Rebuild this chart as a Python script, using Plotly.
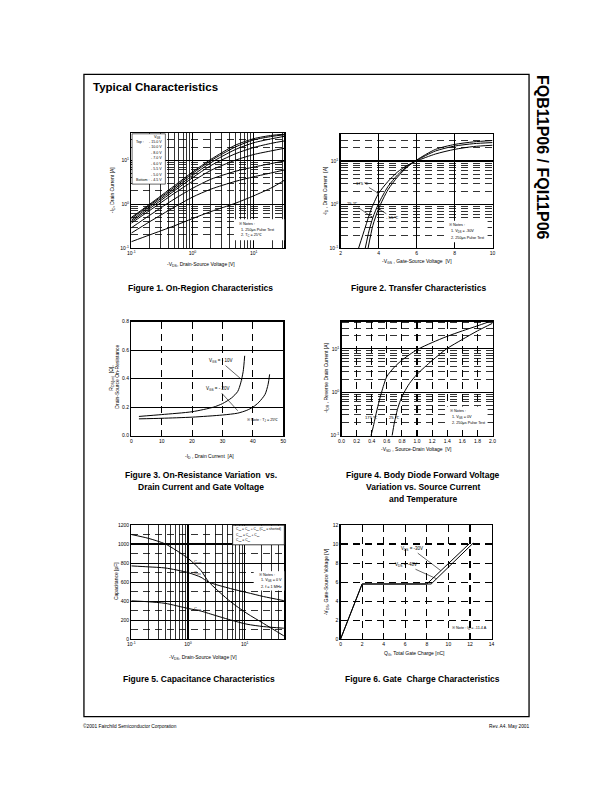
import math
import plotly.graph_objects as go

W, H = 612, 792
FONT = "Liberation Sans, Arial, Helvetica, sans-serif"

# ---------------- Figure 1 : On-Region Characteristics ----------------
f1_vds = [0.1, 0.2, 0.5, 1.0, 2.0, 5.0, 10.0, 20.0, 31.6]
f1_id_15v = [0.50, 1.00, 2.60, 5.40, 10.5, 22.0, 31.0, 37.0, 39.0]
f1_id_10v = [0.47, 0.95, 2.40, 5.00, 9.8, 20.0, 29.0, 35.0, 38.0]
f1_id_8v = [0.43, 0.88, 2.20, 4.50, 8.8, 17.5, 25.0, 31.0, 35.0]
f1_id_7v = [0.40, 0.80, 2.00, 4.00, 7.6, 14.0, 19.5, 24.5, 27.5]
f1_id_6v = [0.37, 0.72, 1.75, 3.30, 5.9, 10.0, 13.5, 16.5, 18.7]
f1_id_5v5 = [0.29, 0.56, 1.30, 2.30, 3.7, 5.6, 7.0, 8.5, 9.6]
f1_id_5v = [0.22, 0.40, 0.85, 1.45, 2.2, 3.3, 4.2, 5.2, 6.0]
f1_id_4v5 = [0.14, 0.20, 0.32, 0.47, 0.68, 1.05, 1.55, 2.4, 3.5]
f1_vgs_labels = ["- 15.0 V", "- 10.0 V", "- 8.0 V", "- 7.0 V", "- 6.0 V", "- 5.5 V", "- 5.0 V", "- 4.5 V"]

# ---------------- Figure 2 : Transfer Characteristics ----------------
f2_vgs_175 = [2.95, 3.3, 3.6, 4.0, 4.5, 5.0, 5.5, 6.0, 7.0, 8.0, 9.0, 10.0]
f2_id_175 = [0.10, 0.30, 0.75, 1.8, 3.4, 5.6, 7.9, 10.0, 14.5, 18.5, 21.5, 23.0]
f2_vgs_25 = [3.3, 3.5, 3.7, 4.0, 4.5, 5.0, 5.5, 6.0, 7.0, 8.0, 9.0, 10.0]
f2_id_25 = [0.10, 0.25, 0.50, 1.05, 2.6, 4.8, 7.5, 10.3, 17.0, 22.0, 25.0, 26.5]
f2_vgs_m55 = [3.45, 3.7, 4.0, 4.5, 5.0, 5.5, 6.0, 7.0, 8.0, 9.0, 10.0]
f2_id_m55 = [0.10, 0.33, 0.80, 2.2, 4.3, 7.2, 10.5, 18.5, 24.0, 27.5, 29.5]

# ---------------- Figure 3 : On-Resistance ----------------
f3_id_10v = [2.5, 10, 20, 27, 30, 33, 35, 36, 36.8, 37.3]
f3_r_10v = [0.135, 0.148, 0.168, 0.20, 0.225, 0.265, 0.31, 0.37, 0.45, 0.56]
f3_id_20v = [2.5, 10, 20, 30, 35, 38, 40, 42, 44, 45, 45.5]
f3_r_20v = [0.118, 0.122, 0.130, 0.145, 0.158, 0.178, 0.20, 0.235, 0.29, 0.36, 0.43]

# ---------------- Figure 4 : Body Diode ----------------
f4_vsd_175 = [0.39, 0.42, 0.45, 0.49, 0.53, 0.60, 0.70, 0.80, 1.0, 1.2, 1.4, 1.6, 1.8, 1.95]
f4_isd_175 = [0.10, 0.16, 0.28, 0.55, 1.0, 2.3, 3.8, 5.5, 9.6, 14.0, 19.5, 26.0, 34.0, 42.0]
f4_vsd_25 = [0.67, 0.70, 0.74, 0.78, 0.83, 0.90, 1.0, 1.2, 1.39, 1.6, 1.8, 2.0]
f4_isd_25 = [0.10, 0.20, 0.40, 0.65, 1.0, 1.6, 2.6, 5.4, 10.0, 16.5, 26.0, 39.0]

# ---------------- Figure 5 : Capacitance ----------------
f5_vds = [0.1, 0.2, 0.4, 1.0, 1.7, 2.3, 5.6, 11, 21.5, 49]
f5_ciss = [770, 760, 748, 700, 650, 600, 532, 490, 448, 405]
f5_coss = [1100, 1060, 1000, 850, 720, 605, 395, 270, 165, 35]
f5_crss = [403, 393, 376, 323, 295, 271, 202, 157, 132, 115]

# ---------------- Figure 6 : Gate Charge ----------------
f6_qg_30 = [0, 2.0, 8.0, 12.0]
f6_vgs_30 = [0, 5.8, 5.8, 10.1]
f6_qg_48 = [0, 2.0, 8.4, 12.3]
f6_vgs_48 = [0, 5.8, 5.8, 10.1]

# ---------------- tick labels ----------------
log_tick_vals = [0.1, 1, 10]
log_tick_text = ["10<sup>-1</sup>", "10<sup>0</sup>", "10<sup>1</sup>"]
f2_x_ticks = [2, 4, 6, 8, 10]
f3_x_ticks = [0, 10, 20, 30, 40, 50]
f3_y_ticks = [0.0, 0.2, 0.4, 0.6, 0.8]
f4_x_ticks = [0.0, 0.2, 0.4, 0.6, 0.8, 1.0, 1.2, 1.4, 1.6, 1.8, 2.0]
f5_y_ticks = [0, 200, 400, 600, 800, 1000, 1200]
f6_x_ticks = [0, 2, 4, 6, 8, 10, 12, 14]
f6_y_ticks = [0, 2, 4, 6, 8, 10, 12]

fig = go.Figure()


def add(x, y, n, spline=True):
    fig.add_trace(go.Scatter(
        x=x, y=y, xaxis="x" if n == 1 else "x%d" % n, yaxis="y" if n == 1 else "y%d" % n,
        mode="lines", hoverinfo="skip", showlegend=False,
        line=dict(color="black", width=1.0, shape="spline" if spline else "linear", smoothing=0.7)))


for curve in [f1_id_15v, f1_id_10v, f1_id_8v, f1_id_7v, f1_id_6v, f1_id_5v5, f1_id_5v, f1_id_4v5]:
    add(f1_vds, curve, 1)
add(f2_vgs_175, f2_id_175, 2)
add(f2_vgs_25, f2_id_25, 2)
add(f2_vgs_m55, f2_id_m55, 2)
add(f3_id_10v, f3_r_10v, 3)
add(f3_id_20v, f3_r_20v, 3)
add(f4_vsd_175, f4_isd_175, 4)
add(f4_vsd_25, f4_isd_25, 4)
add(f5_vds, f5_ciss, 5)
add(f5_vds, f5_coss, 5)
add(f5_vds, f5_crss, 5)
add(f6_qg_30, f6_vgs_30, 6, spline=False)
add(f6_qg_48, f6_vgs_48, 6, spline=False)


def dom_x(a, b):
    return [a / W, b / W]


def dom_y(top, bottom):
    return [1 - bottom / H, 1 - top / H]


TICKFONT = dict(family=FONT, size=5, color="black")
DASH = "7px,5px"


def log_minor(lo, hi, vmax):
    return [k * 10 ** e for e in range(lo, hi + 1) for k in range(2, 10) if k * 10 ** e <= vmax]


def axis(**kw):
    d = dict(showline=True, mirror=True, linecolor="black", linewidth=1.3, ticks="",
             tickfont=TICKFONT, zeroline=False, showgrid=True, gridcolor="black",
             gridwidth=1.1, fixedrange=True)
    d.update(kw)
    return d


def minor_arr(vals, dash):
    return dict(tickmode="array", tickvals=vals, ticks="", showgrid=True,
                gridcolor="black", gridwidth=0.8, griddash=dash)


layout_axes = dict(
    # Figure 1
    xaxis=axis(domain=dom_x(129, 284), anchor="y", type="log", range=[-1, 1.5],
               tickmode="array", tickvals=log_tick_vals, ticktext=log_tick_text,
               minor=minor_arr(log_minor(-1, 1, 31), "solid")),
    yaxis=axis(domain=dom_y(131, 247), anchor="x", type="log", range=[-1, 1.62],
               tickmode="array", tickvals=log_tick_vals, ticktext=log_tick_text,
               minor=minor_arr(log_minor(-1, 1, 41), DASH)),
    # Figure 2
    xaxis2=axis(domain=dom_x(341, 495), anchor="y2", range=[2, 10],
                tickmode="array", tickvals=f2_x_ticks),
    yaxis2=axis(domain=dom_y(132, 247), anchor="x2", type="log", range=[-1, 1.62],
                tickmode="array", tickvals=log_tick_vals, ticktext=log_tick_text,
                minor=minor_arr(log_minor(-1, 1, 41), DASH)),
    # Figure 3
    xaxis3=axis(domain=dom_x(129, 283), anchor="y3", range=[0, 50],
                tickmode="array", tickvals=f3_x_ticks, griddash=DASH),
    yaxis3=axis(domain=dom_y(321, 436), anchor="x3", range=[0, 0.8],
                tickmode="array", tickvals=f3_y_ticks, tickformat=".1f"),
    # Figure 4
    xaxis4=axis(domain=dom_x(342, 495), anchor="y4", range=[0, 2.0],
                tickmode="array", tickvals=f4_x_ticks, tickformat=".1f", griddash=DASH),
    yaxis4=axis(domain=dom_y(321, 436), anchor="x4", type="log", range=[-1, 1.63],
                tickmode="array", tickvals=log_tick_vals, ticktext=log_tick_text,
                minor=minor_arr(log_minor(-1, 1, 42), DASH)),
    # Figure 5
    xaxis5=axis(domain=dom_x(129, 284), anchor="y5", type="log", range=[-1, 1.699],
                tickmode="array", tickvals=log_tick_vals, ticktext=log_tick_text,
                minor=minor_arr(log_minor(-1, 1, 49), "solid")),
    yaxis5=axis(domain=dom_y(526, 641), anchor="x5", range=[0, 1200],
                tickmode="array", tickvals=f5_y_ticks,
                minor=dict(tickmode="linear", tick0=0, dtick=100, ticks="", showgrid=True,
                           gridcolor="black", gridwidth=0.8, griddash=DASH)),
    # Figure 6
    xaxis6=axis(domain=dom_x(341, 494), anchor="y6", range=[0, 14],
                tickmode="array", tickvals=f6_x_ticks, griddash=DASH),
    yaxis6=axis(domain=dom_y(526, 641), anchor="x6", range=[0, 12],
                tickmode="array", tickvals=f6_y_ticks, griddash=DASH),
)

ann = []


def text(px, py, s, size=5, xanchor="center", yanchor="middle", angle=0, bold=False):
    ann.append(dict(x=px / W, y=1 - py / H, xref="paper", yref="paper",
                    text=("<b>%s</b>" % s) if bold else s, showarrow=False,
                    xanchor=xanchor, yanchor=yanchor, textangle=angle,
                    font=dict(family=FONT, size=size, color="black")))


def arrow(n, x, y, ax, ay, s, size=4.2, head=2):
    ann.append(dict(x=x, y=y, xref="x%d" % n, yref="y%d" % n, ax=ax, ay=ay, text=s,
                    showarrow=True, arrowhead=head, arrowsize=0.6, arrowwidth=0.6,
                    arrowcolor="black", standoff=0,
                    font=dict(family=FONT, size=size, color="black")))


# page header / footer
text(88, 84.5, "Typical Characteristics", size=11.5, xanchor="left", bold=True)
text(545, 156, "FQB11P06 / FQI11P06", size=16, angle=90, bold=True)
text(78.5, 729, "©2001 Fairchild Semiconductor Corporation", size=4.8, xanchor="left")
text(534.5, 729, "Rev. A4. May 2001", size=4.8, xanchor="right")

# captions
text(199, 287, "Figure 1. On-Region Characteristics", size=8.5, bold=True)
text(420, 287, "Figure 2. Transfer Characteristics", size=8.5, bold=True)
text(200, 476, "Figure 3. On-Resistance Variation  vs.", size=8.5, bold=True)
text(200, 488, "Drain Current and Gate Voltage", size=8.5, bold=True)
text(425, 476, "Figure 4. Body Diode Forward Voltage", size=8.5, bold=True)
text(425, 488, "Variation vs. Source Current", size=8.5, bold=True)
text(425, 500, "and Temperature", size=8.5, bold=True)
text(198, 681, "Figure 5. Capacitance Characteristics", size=8.5, bold=True)
text(424, 681, "Figure 6. Gate  Charge Characteristics", size=8.5, bold=True)

# axis titles
text(110, 189, "-I<sub>D</sub>, Drain Current [A]", angle=-90)
text(200, 264, "-V<sub>DS</sub>, Drain-Source Voltage [V]")
text(326, 189, "-I<sub>D</sub> , Drain Current  [A]", angle=-90)
text(418, 260, "-V<sub>GS</sub> , Gate-Source Voltage  [V]")
text(109, 378, "R<sub>DS(on)</sub>  [Ω],", angle=-90)
text(115, 376, "Drain-Source On-Resistance", angle=-90)
text(208, 457, "-I<sub>D</sub> , Drain Current  [A]")
text(326, 378, "-I<sub>DR</sub> , Reverse Drain Current [A]", angle=-90)
text(418, 450, "-V<sub>SD</sub> , Source-Drain Voltage  [V]")
text(113, 583, "Capacitance [pF]", angle=-90)
text(202, 659, "-V<sub>DS</sub>, Drain-Source Voltage [V]")
text(327, 583, "-V<sub>GS</sub>, Gate-Source Voltage [V]", angle=-90)
text(416, 655, "Q<sub>G</sub>, Total Gate Charge [nC]")

shapes = []


def box(x0, y0, x1, y1, border=True):
    shapes.append(dict(type="rect", xref="paper", yref="paper",
                       x0=x0 / W, x1=x1 / W, y0=1 - y1 / H, y1=1 - y0 / H,
                       fillcolor="white", layer="above",
                       line=dict(color="black", width=0.6 if border else 0)))


# Figure 1 legend & notes
box(129.8, 131.8, 163.5, 182.5)
text(156, 135.3, "V<sub>GS</sub>", size=3.8)
text(132, 139.6, "Top :", size=3.6, xanchor="left")
for i, lab in enumerate(f1_vgs_labels):
    text(162, 139.6 + i * 5.6, lab, size=3.6, xanchor="right")
text(131.5, 178.8, "Bottom :", size=3.6, xanchor="left")
box(233, 218, 284, 239, border=False)
text(236, 222.7, "※ Notes :", size=3.8, xanchor="left")
text(238, 228.3, "1. 250μs Pulse Test", size=3.8, xanchor="left")
text(238, 234.0, "2. T<sub>C</sub> = 25℃", size=3.8, xanchor="left")

# Figure 2 labels & notes
arrow(2, 4.0, math.log10(1.8), -16, -10, "175 ℃")
arrow(2, 3.7, math.log10(0.5), -20, -14, "25 ℃")
arrow(2, 4.0, math.log10(0.8), 14, 9, "- 55 ℃")
box(446.5, 219.5, 490, 241, border=False)
text(449, 224, "※ Notes :", size=3.8, xanchor="left")
text(450.7, 230.4, "1. V<sub>DS</sub> = -30V", size=3.8, xanchor="left")
text(450.7, 236.4, "2. 250μs Pulse Test", size=3.8, xanchor="left")

# Figure 3 labels & notes
arrow(3, 36.5, 0.39, -22, -19, "V<sub>GS</sub> = - 10V", size=4.5, head=0)
arrow(3, 35.0, 0.175, -20, -22, "V<sub>GS</sub> = - 20V", size=4.5, head=0)
text(244, 420.7, "※ Note : T<sub>J</sub> = 25℃", size=3.8, xanchor="left")

# Figure 4 labels & notes
text(372, 418, "175 ℃", size=4.2)
text(396, 418, "25 ℃", size=4.2)
box(447, 406.5, 490, 427.5, border=False)
text(450, 411.5, "※ Notes :", size=3.8, xanchor="left")
text(451.7, 417.2, "1. V<sub>GS</sub> = 0V", size=3.8, xanchor="left")
text(451.7, 422.8, "2. 250μs Pulse Test", size=3.8, xanchor="left")

# Figure 5 legend & notes
box(231.7, 526.5, 284, 546)
text(233.3, 530.2, "C<sub>iss</sub> = C<sub>gs</sub> + C<sub>gd</sub> (C<sub>ds</sub> = shorted)", size=3.3, xanchor="left")
text(233.3, 535.8, "C<sub>oss</sub> = C<sub>ds</sub> + C<sub>gd</sub>", size=3.3, xanchor="left")
text(233.3, 541.3, "C<sub>rss</sub> = C<sub>gd</sub>", size=3.3, xanchor="left")
box(253, 572.5, 284, 592, border=False)
text(256, 576.7, "※ Notes :", size=3.8, xanchor="left")
text(258, 582.4, "1. V<sub>GS</sub> = 0 V", size=3.8, xanchor="left")
text(258, 588.0, "2. f = 1 MHz", size=3.8, xanchor="left")
text(190, 563.5, "C<sub>oss</sub>", size=4.2, xanchor="left")
text(190, 574.5, "C<sub>iss</sub>", size=4.2, xanchor="left")
text(190, 610.7, "C<sub>rss</sub>", size=4.2, xanchor="left")

# Figure 6 labels & notes
arrow(6, 9.3, 7.2, -29, -22, "V<sub>DS</sub> = -30V", size=4.5, head=0)
arrow(6, 8.9, 6.35, -31, -14, "V<sub>DS</sub> = -48V", size=4.5, head=0)
text(452, 630.7, "※ Note : I<sub>D</sub> = -11.4 A", size=3.8, xanchor="left")

# page frame
shapes.append(dict(type="rect", xref="paper", yref="paper",
                   x0=81 / W, x1=532 / W, y0=1 - 719 / H, y1=1 - 72 / H,
                   line=dict(color="black", width=1.3), fillcolor="rgba(0,0,0,0)", layer="above"))

fig.update_layout(
    width=W, height=H, margin=dict(l=0, r=0, t=0, b=0),
    paper_bgcolor="white", plot_bgcolor="white",
    annotations=ann, shapes=shapes, showlegend=False,
    font=dict(family=FONT, color="black"),
    **layout_axes)

fig.write_html("out.html", config={"displayModeBar": False, "staticPlot": True})
